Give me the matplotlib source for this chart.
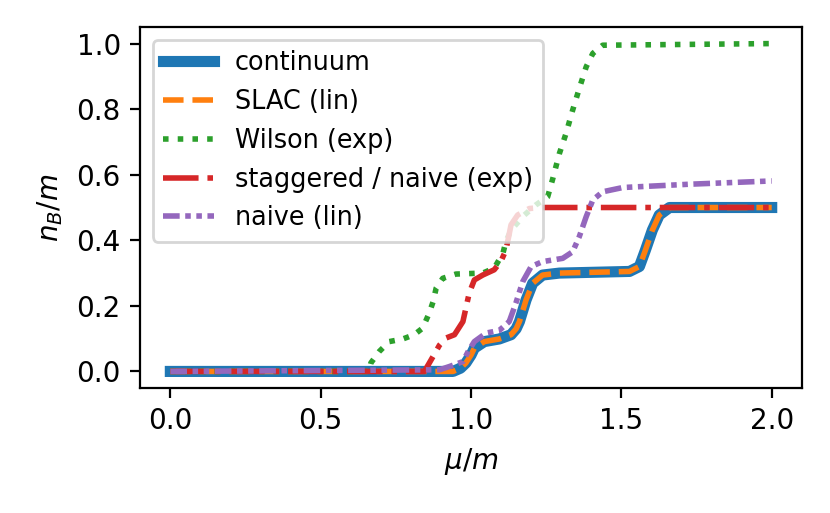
import matplotlib
matplotlib.use("Agg")
import matplotlib.pyplot as plt

# ---- data ----
mu_cont = [0.0, 0.94, 0.965, 0.983, 1.0, 1.011, 1.044, 1.094, 1.133, 1.15, 1.161, 1.172, 1.183,
           1.205, 1.238, 1.294, 1.527, 1.56, 1.58, 1.603, 1.626, 1.66, 2.0]
n_cont = [0.0, 0.0, 0.01, 0.026, 0.05, 0.071, 0.091, 0.099, 0.112, 0.13, 0.152, 0.185, 0.218,
          0.269, 0.294, 0.300, 0.305, 0.32, 0.37, 0.431, 0.477, 0.5, 0.5]

mu_slac = [0.0, 0.94, 0.965, 0.983, 1.0, 1.011, 1.044, 1.094, 1.133, 1.15, 1.161, 1.172, 1.183,
           1.205, 1.238, 1.294, 1.527, 1.56, 1.58, 1.603, 1.626, 1.66, 2.0]
n_slac = [0.0, 0.0, 0.01, 0.026, 0.05, 0.071, 0.091, 0.099, 0.112, 0.13, 0.152, 0.185, 0.218,
          0.269, 0.294, 0.300, 0.305, 0.32, 0.37, 0.431, 0.477, 0.5, 0.5]

mu_wilson = [0.0, 0.66, 0.667, 0.695, 0.728, 0.773, 0.811, 0.839, 0.861, 0.874, 0.884, 0.906,
             0.95, 1.039, 1.077, 1.106, 1.116, 1.133, 1.175, 1.216, 1.255, 1.271, 1.294, 1.316,
             1.338, 1.36, 1.383, 1.405, 1.438, 2.0]
n_wilson = [0.0, 0.0, 0.026, 0.061, 0.091, 0.099, 0.112, 0.132, 0.178, 0.213, 0.254, 0.284,
            0.297, 0.30, 0.315, 0.36, 0.396, 0.431, 0.475, 0.508, 0.533, 0.585, 0.665, 0.726,
            0.797, 0.863, 0.929, 0.97, 0.995, 1.0]

mu_stag = [0.0, 0.845, 0.874, 0.895, 0.917, 0.945, 0.973, 0.994, 1.011, 1.039, 1.077, 1.099,
           1.116, 1.125, 1.133, 1.155, 1.194, 1.238, 2.0]
n_stag = [0.0, 0.0, 0.046, 0.08, 0.102, 0.112, 0.152, 0.239, 0.279, 0.294, 0.31, 0.335,
          0.37, 0.41, 0.447, 0.477, 0.497, 0.5, 0.5]

mu_naive = [0.0, 0.895, 0.928, 0.973, 0.99, 1.011, 1.05, 1.094, 1.127, 1.149, 1.172, 1.2,
            1.238, 1.305, 1.338, 1.36, 1.383, 1.405, 1.438, 1.505, 1.726, 2.0]
n_naive = [0.0, 0.005, 0.015, 0.03, 0.06, 0.091, 0.117, 0.125, 0.152, 0.208, 0.274, 0.32,
           0.335, 0.345, 0.365, 0.411, 0.472, 0.523, 0.548, 0.561, 0.571, 0.581]

fig, ax = plt.subplots(figsize=(4.15, 2.565), dpi=200)
fig.subplots_adjust(left=0.169, right=0.966, top=0.947, bottom=0.244)

ax.plot(mu_cont, n_cont, color='C0', lw=4, label='continuum')
ax.plot(mu_slac, n_slac, color='C1', lw=2, ls='--', label='SLAC (lin)')
ax.plot(mu_wilson, n_wilson, color='C2', lw=2, ls=':', label='Wilson (exp)')
ax.plot(mu_stag, n_stag, color='C3', lw=2, ls='-.', label='staggered / naive (exp)')
ax.plot(mu_naive, n_naive, color='C4', lw=2, ls=(0, (3, 1, 1, 1, 1, 1)), label='naive (lin)')

ax.set_xlabel(r'$\mu/m$')
ax.set_ylabel(r'$n_B/m$')
ax.set_xticks([0.0, 0.5, 1.0, 1.5, 2.0])
ax.set_yticks([0.0, 0.2, 0.4, 0.6, 0.8, 1.0])
ax.legend(loc='upper left', fontsize=9.2)

fig.savefig('out.png', dpi=200)
